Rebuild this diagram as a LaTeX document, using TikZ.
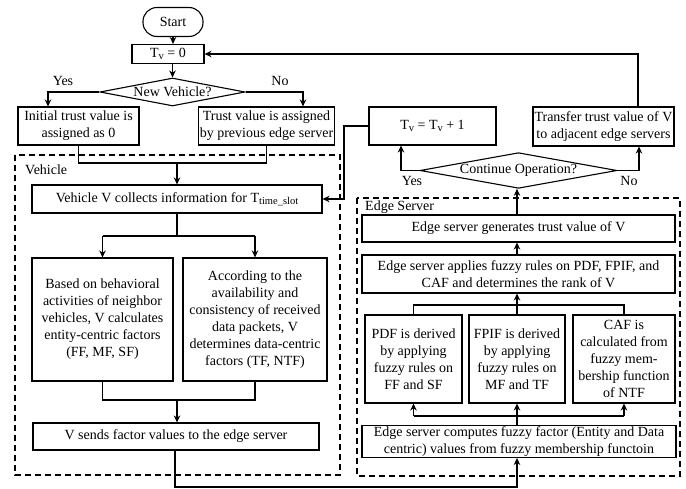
\documentclass[tikz,border=0pt]{standalone}
\usepackage{fontspec}
\setmainfont{Liberation Serif}
\usetikzlibrary{shapes.geometric,arrows.meta,calc}
\newcommand{\sbv}[1]{\raisebox{-0.3ex}{\fontsize{10.5}{10.5}\selectfont #1}}
\begin{document}
\begin{tikzpicture}[x=1pt,y=-1pt,
  every node/.style={font=\fontsize{14}{17}\selectfont},
  box/.style={draw, line width=1.1pt, rectangle, align=center, inner sep=1pt},
  dia/.style={draw, line width=1.1pt, diamond, inner sep=0pt, aspect=5},
  ln/.style={line width=1.8pt},
  arr/.style={line width=1.8pt, -{Stealth[length=7pt,width=6.5pt]}},
  region/.style={draw, line width=1.6pt, dash pattern=on 6pt off 4pt}
]
\useasboundingbox (0,0) rectangle (686,489);

% regions
\draw[region] (15,155) rectangle (340,475);
\draw[region] (357,198) rectangle (680,476);
\node[anchor=west, inner sep=0pt] (vlab) at (25,170) {Vehicle};
\node[anchor=west, inner sep=0pt] (elab) at (365,207) {Edge Server};

% top part
\node[box, rounded corners=14pt, minimum width=60pt, minimum height=29pt] (start) at (173,22) {Start};
\node[box, minimum width=72pt, minimum height=19pt] (tv0) at (168,54) {T\sbv{v} = 0};
\node[dia, minimum width=145pt, minimum height=28pt] (newv) at (172.5,92) {New Vehicle?};
\node[box, minimum width=121pt, minimum height=38pt] (init) at (78.5,126) {Initial trust value is\\assigned as 0};
\node[box, minimum width=135pt, minimum height=38pt] (prev) at (266.5,126) {Trust value is assigned\\by previous edge server};
\node[inner sep=0pt] (yes1) at (63,81) {Yes};
\node[inner sep=0pt] (no1) at (280,81) {No};

% vehicle
\node[box, minimum width=290pt, minimum height=28pt] (coll) at (177,199) {Vehicle V collects information for T\sbv{time\_slot}};
\node[box, minimum width=141pt, minimum height=123pt] (behav) at (102.5,319.5) {Based on behavioral\\activities of neighbor\\vehicles, V calculates\\entity-centric factors\\(FF, MF, SF)};
\node[box, minimum width=144pt, minimum height=123pt] (data) at (255,319.5) {According to the\\availability and\\consistency of received\\data packets, V\\determines data-centric\\factors (TF, NTF)};
\node[box, minimum width=286pt, minimum height=27pt] (sends) at (176,436.5) {V sends factor values to the edge server};

% edge server
\node[box, minimum width=313pt, minimum height=27pt] (gen) at (518.5,228.5) {Edge server generates trust value of V};
\node[box, minimum width=313pt, minimum height=38pt] (apply) at (518.5,274) {Edge server applies fuzzy rules on PDF, FPIF, and\\CAF and determines the rank of V};
\node[box, minimum width=97pt, minimum height=88pt] (pdf) at (413.5,359) {PDF is derived\\by applying\\fuzzy rules on\\FF and SF};
\node[box, minimum width=96pt, minimum height=88pt] (fpif) at (517,359) {FPIF is derived\\by applying\\fuzzy rules on\\MF and TF};
\node[box, minimum width=102pt, minimum height=88pt] (caf) at (624,359) {CAF is\\calculated from\\fuzzy mem-\\bership function\\of NTF};
\node[box, minimum width=314pt, minimum height=31pt] (comp) at (519,441.5) {Edge server computes fuzzy factor (Entity and Data\\centric) values from fuzzy membership functoin};

% continue
\node[dia, minimum width=197pt, minimum height=35pt] (cont) at (518.5,170.5) {Continue Operation?};
\node[box, minimum width=127pt, minimum height=38pt] (tvp) at (432.5,126) {T\sbv{v} = T\sbv{v} + 1};
\node[box, minimum width=141pt, minimum height=39pt] (trans) at (603.5,126.5) {Transfer trust value of V\\to adjacent edge servers};
\node[inner sep=0pt] (yes2) at (412,181) {Yes};
\node[inner sep=0pt] (no2) at (629,181) {No};

% coordinates
\coordinate (m1) at (177,163);
\coordinate (s1) at (177,236);
\coordinate (m2) at (177,400);
\coordinate (m3) at (175,487);
\coordinate (sp) at (517,416);
\coordinate (mg) at (517,305);
\coordinate (m4) at (344,126);

% connectors top
\draw[arr] (start.south) -- (start.south |- tv0.north);
\draw[arr] (tv0.south -| newv.north) -- (newv.north);
\draw[arr] (newv.west) -| ([xshift=-30.5pt]init.north);
\draw[arr] (newv.east) -| ([xshift=36.5pt]prev.north);
\draw[ln] (init.south) -- (init.south |- m1) -- (prev.south |- m1) -- (prev.south);
\draw[arr] (m1) -- (m1 |- coll.north);

% vehicle connectors
\draw[ln] (coll.south) -- (s1);
\draw[arr] (behav.north |- s1) -- (behav.north);
\draw[arr] (data.north |- s1) -- (data.north);
\draw[ln] (behav.north |- s1) -- (data.north |- s1);
\draw[ln] (behav.south) -- (behav.south |- m2) -- (data.south |- m2) -- (data.south);
\draw[arr] (m2) -- (m2 |- sends.north);
\draw[arr] (sends.south -| m3) -- (m3) -- (m3 -| sp) -- (sp |- comp.south);

% edge connectors
\draw[ln] (sp |- comp.north) -- (sp);
\draw[ln] (pdf.south |- sp) -- (caf.south |- sp);
\draw[arr] (pdf.south |- sp) -- (pdf.south);
\draw[arr] (sp) -- (sp |- fpif.south);
\draw[arr] (caf.south |- sp) -- (caf.south);
\draw[ln] (pdf.north) -- (pdf.north |- mg) -- (caf.north |- mg) -- (caf.north);
\draw[ln] (fpif.north) -- (mg);
\draw[arr] (mg) -- (mg |- apply.south);
\draw[arr] (apply.north -| mg) -- (mg |- gen.south);
\draw[arr] (gen.north -| mg) -- (mg |- cont.south);

% continue connectors
\draw[arr] (cont.west) -| ([xshift=-31.5pt]tvp.south);
\draw[arr] (cont.east) -| ([xshift=35.5pt]trans.south);
\draw[arr] ([xshift=34.5pt]trans.north) |- (tv0.east);
\draw[arr] (tvp.west) -- (m4) |- (coll.east);
\end{tikzpicture}
\end{document}
